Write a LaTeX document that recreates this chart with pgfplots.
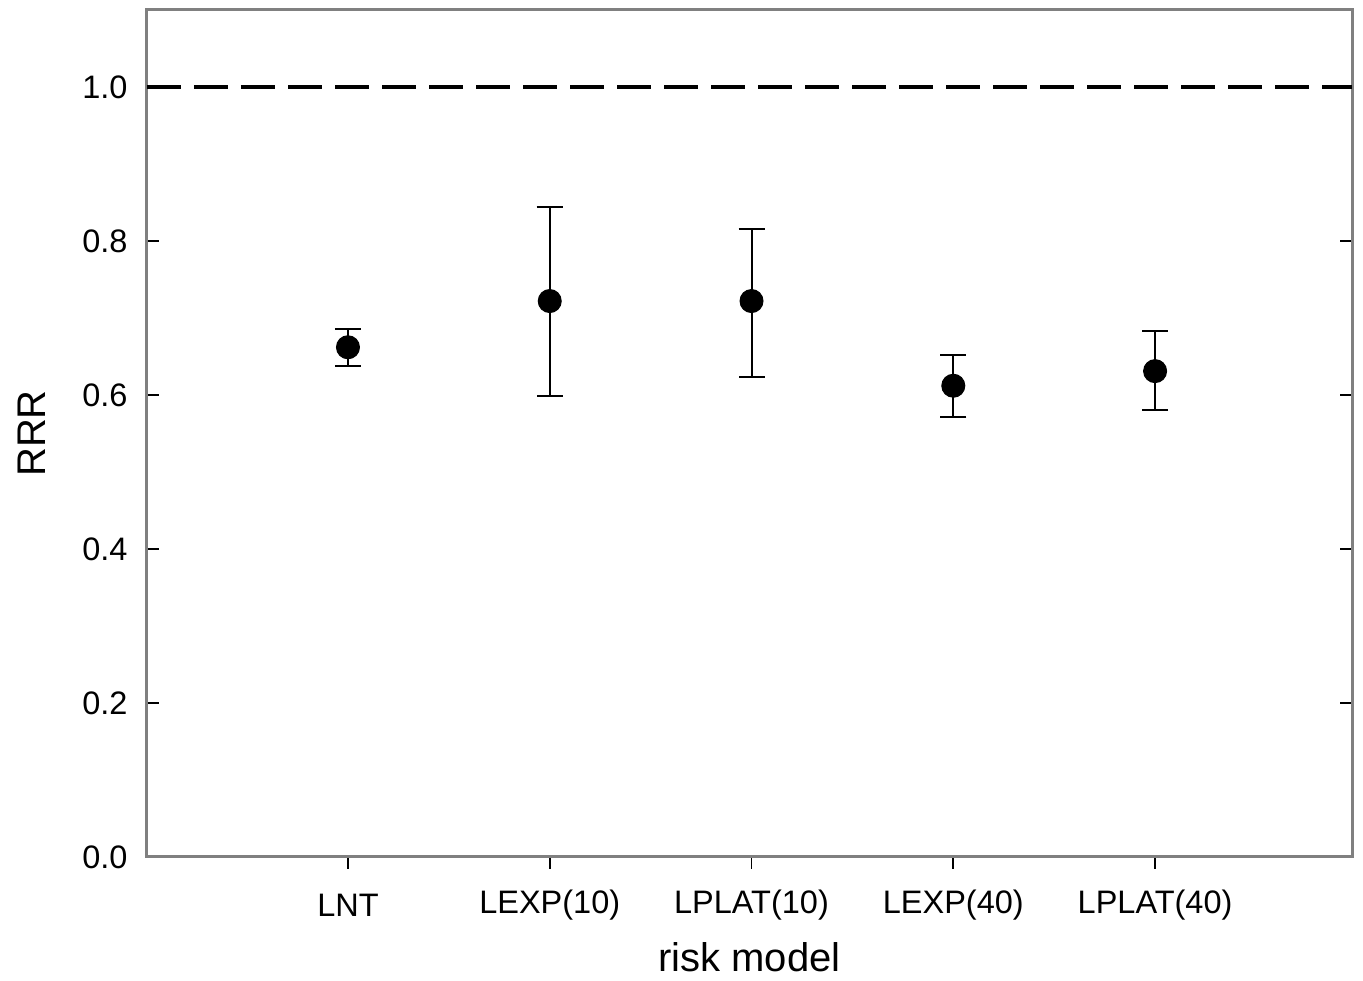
\documentclass[border=0pt]{standalone}
\usepackage{pgfplots}
\pgfplotsset{compat=1.18}
\usepackage{fontspec}
\setmainfont{Liberation Sans}
\begin{document}
\begin{tikzpicture}
\begin{axis}[
  at={(0,0)}, anchor=south west,
  scale only axis,
  width=482pt, height=338.8pt,
  xmin=0.004, xmax=5.976, ymin=0, ymax=1.1,
  xtick={1,2,3,4,5},
  xticklabels={LNT, LEXP(10), LPLAT(10), LEXP(40), LPLAT(40)},
  ytick={0,0.2,0.4,0.6,0.8,1.0},
  yticklabel style={/pgf/number format/fixed, /pgf/number format/fixed zerofill, /pgf/number format/precision=1, anchor=east, inner sep=0pt, xshift=-7.6pt, font=\fontsize{13}{15}\selectfont},
  /pgf/number format/assume math mode=true,
  xticklabel style={anchor=center, yshift=-19.2pt, font=\fontsize{13}{15}\selectfont},
  tick align=inside,
  xtick pos=bottom, ytick pos=both,
  major tick length=4.8pt,
  xtick style={yshift=-4.8pt},
  tick style={black, line width=0.7pt},
  axis line style={draw=gray, line width=1.2pt},
  xlabel={risk model}, ylabel={RRR},
  every axis x label/.style={at={(axis description cs:0.5,0)}, anchor=center, yshift=-40pt, font=\fontsize{16}{18}\selectfont},
  every axis y label/.style={at={(axis description cs:0,0.5)}, anchor=center, xshift=-46pt, rotate=90, font=\fontsize{16}{18}\selectfont},
  clip=false,
]
\addplot[black, line width=1.3pt, dash pattern=on 13.6pt off 5.2pt] coordinates {(0.004,1) (5.976,1)};
\addplot[only marks, mark=*, mark size=4.6pt, black,
  error bars/.cd, y dir=both, y explicit,
  error bar style={black, line width=0.8pt},
  error mark options={rotate=90, black, mark size=5.2pt, line width=0.8pt}]
  table[x=x, y=y, y error plus=ep, y error minus=em] {
x y ep em
1 0.662 0.024 0.024
2 0.722 0.122 0.123
3 0.722 0.094 0.099
4 0.612 0.040 0.041
5 0.631 0.052 0.050
};
\end{axis}
\useasboundingbox (-58.8pt,-48pt) rectangle (486.4pt,342.8pt);
\end{tikzpicture}
\end{document}
